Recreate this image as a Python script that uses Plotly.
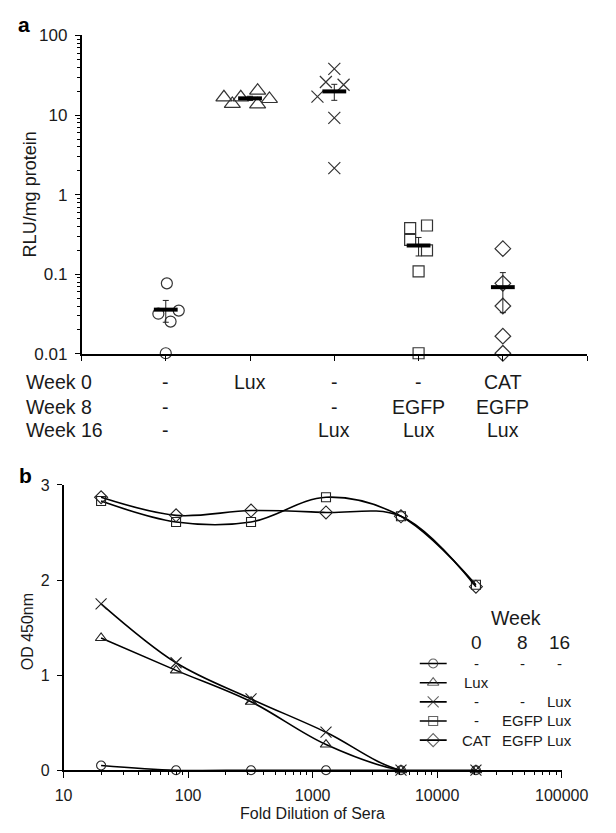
import plotly.graph_objects as go

W, H = 616, 833
FONT = "Liberation Sans, Arial, sans-serif"
INK = "#1a1a1a"

# ---------------- Panel a data ----------------
groups = [1, 2, 3, 4, 5]
week0 = ["-", "Lux", "-", "-", "CAT"]
week8 = ["-", "", "-", "EGFP", "EGFP"]
week16 = ["-", "", "Lux", "Lux", "Lux"]
row_names = ["Week 0", "Week 8", "Week 16"]

circ_y = [0.077, 0.032, 0.035, 0.0255, 0.0102]
circ_dx = [0.013, -0.088, 0.154, 0.057, 0.0]
tri_y = [16.7, 13.8, 16.7, 20.2, 13.6, 15.9]
tri_dx = [-0.31, -0.21, -0.11, 0.09, 0.09, 0.23]
x_y = [17.0, 26.0, 38.0, 24.0, 9.2, 2.15]
x_dx = [-0.2, -0.1, 0.0, 0.11, 0.0, 0.0]
sq_y = [0.38, 0.41, 0.27, 0.20, 0.109, 0.0102]
sq_dx = [-0.1, 0.1, -0.1, 0.1, 0.0, 0.0]
dia_y = [0.21, 0.077, 0.040, 0.0167, 0.0102]
dia_dx = [0.0, 0.0, 0.0, 0.0, 0.0]

group_mean = [0.036, 16.2, 19.8, 0.23, 0.069]
group_sem = [0.011, 1.0, 4.5, 0.06, 0.036]

# ---------------- Panel b data ----------------
dilution = [20, 80, 320, 1280, 5120, 20480]
od_none = [0.05, 0.0, 0.0, 0.0, 0.0, 0.0]
od_lux0 = [1.39, 1.05, 0.72, 0.27, 0.0, 0.0]
od_lux16 = [1.75, 1.13, 0.75, 0.40, 0.0, 0.0]
od_egfp = [2.83, 2.61, 2.61, 2.87, 2.67, 1.95]
od_cat = [2.87, 2.68, 2.73, 2.71, 2.67, 1.93]
legend_w0 = ["-", "Lux", "-", "-", "CAT"]
legend_w8 = ["-", "", "-", "EGFP", "EGFP"]
legend_w16 = ["-", "", "Lux", "Lux", "Lux"]
legend_cols = ["0", "8", "16"]

symbols = ["circle-open", "triangle-up-open", "x-thin-open", "square-open", "diamond-open"]


def px_x(p):
    return p / W


def px_y(p):
    return 1 - p / H


fig = go.Figure()

# Panel a scatter points
pts = [(circ_y, circ_dx), (tri_y, tri_dx), (x_y, x_dx), (sq_y, sq_dx), (dia_y, dia_dx)]
sizes_a = [11, 14, 12, 11, 12]
for g, (ys, dxs), sym, sz in zip(groups, pts, symbols, sizes_a):
    fig.add_trace(go.Scatter(
        x=[g + d for d in dxs], y=ys, mode="markers", xaxis="x", yaxis="y",
        marker=dict(symbol=sym, size=sz, color="#333", line=dict(width=1.2, color="#333")),
        cliponaxis=False, showlegend=False))

# Mean +/- SEM
fig.add_trace(go.Scatter(
    x=groups, y=group_mean, mode="markers", xaxis="x", yaxis="y",
    marker=dict(symbol="line-ew", size=17, line=dict(width=4, color="black")),
    error_y=dict(type="data", array=group_sem, symmetric=True, color="#222", thickness=1, width=3),
    cliponaxis=False, showlegend=False))

# Panel b curves
series_b = [od_none, od_lux0, od_lux16, od_egfp, od_cat]
sizes_b = [9, 10, 11, 9, 10]
for ys, sym, sz in zip(series_b, symbols, sizes_b):
    fig.add_trace(go.Scatter(
        x=dilution, y=ys, mode="lines+markers", xaxis="x2", yaxis="y2",
        line=dict(color="black", width=1.6, shape="spline", smoothing=1.0),
        marker=dict(symbol=sym, size=sz, color="#222", line=dict(width=1.1, color="#222")),
        cliponaxis=False, showlegend=False))

# Custom legend symbols (row index on a hidden axis)
rows = list(range(len(symbols)))
for r, sym, sz in zip(rows, symbols, sizes_b):
    fig.add_trace(go.Scatter(
        x=[0, 0.5, 1], y=[r, r, r], mode="lines+markers", xaxis="x3", yaxis="y3",
        line=dict(color="black", width=1.6),
        marker=dict(symbol=sym, size=[0, sz, 0], color="#222", line=dict(width=1.1, color="#222")),
        cliponaxis=False, showlegend=False))

axis_common = dict(showline=True, linecolor="black", linewidth=1.5, showgrid=False,
                   zeroline=False, ticks="outside", tickcolor="black")

layout = dict(
    width=W, height=H, margin=dict(l=0, r=0, t=0, b=0),
    paper_bgcolor="white", plot_bgcolor="white",
    font=dict(family=FONT, color=INK),
    xaxis=dict(axis_common, domain=[px_x(77), px_x(614)], range=[0, 6],
               tickvals=[0, 1, 2, 3, 4, 5, 6], showticklabels=False, ticklen=5,
               anchor="y"),
    yaxis=dict(axis_common, domain=[px_y(353), px_y(27)], type="log",
               range=[-2, 2], tickvals=[0.01, 0.1, 1, 10, 100],
               ticktext=["0.01", "0.1", "1", "10", "100"], ticklen=5,
               ticklabelstandoff=4,
               tickfont=dict(family=FONT, size=17, color=INK),
               minor=dict(ticks="outside", ticklen=3, dtick="D1", tickcolor="black", showgrid=False),
               anchor="x"),
    xaxis2=dict(axis_common, domain=[px_x(58), px_x(587)], type="log",
                range=[1, 5], tickvals=[10, 100, 1000, 10000, 100000],
                ticktext=["10", "100", "1000", "10000", "100000"], ticklen=6,
                ticklabelstandoff=4,
                tickfont=dict(family=FONT, size=16, color=INK),
                minor=dict(ticks="outside", ticklen=3, dtick="D1", tickcolor="black", showgrid=False),
                anchor="y2"),
    yaxis2=dict(axis_common, domain=[px_y(779), px_y(487)], range=[0, 3],
                tickvals=[0, 1, 2, 3], ticklen=5, ticklabelstandoff=4,
                tickfont=dict(family=FONT, size=16, color=INK), anchor="x2"),
    xaxis3=dict(domain=[px_x(436), px_x(465)], range=[0, 1], visible=False, anchor="y3"),
    yaxis3=dict(domain=[px_y(758), px_y(660)], range=[4.5, -0.5], visible=False, anchor="x3"),
)
fig.update_layout(**layout)


def note(text, x, y, size, xref="paper", yref="paper", xanchor="center", angle=0, color=INK):
    return dict(text=text, x=x, y=y, xref=xref, yref=yref, xanchor=xanchor, yanchor="middle",
                textangle=angle, showarrow=False, font=dict(size=size, family=FONT, color=color))


ann = []
# panel letters
ann.append(note("<b>a</b>", px_x(16), px_y(16), 21, color="black"))
ann.append(note("<b>b</b>", px_x(18), px_y(477), 21, color="black"))
# axis titles
ann.append(note("RLU/mg protein", px_x(22), px_y(190), 18, angle=-90))
ann.append(note("OD 450nm", px_x(20), px_y(637), 16, angle=-90))
ann.append(note("Fold Dilution of Sera", px_x(322), px_y(823), 16))
# table under panel a
row_y = [382, 407, 431]
for name, ry, labels in zip(row_names, row_y, [week0, week8, week16]):
    ann.append(note(name, px_x(16), px_y(ry), 19.5, xanchor="left"))
    for g, lab in zip(groups, labels):
        if lab:
            ann.append(note(lab, g, px_y(ry), 19.5, xref="x"))
# legend text
col_x = [497, 545, 585]
ann.append(note("Week", px_x(538), px_y(623), 19.5))
for cx, c in zip(col_x, legend_cols):
    ann.append(note(c, px_x(cx), px_y(648), 19))
for r, a0, a8, a16 in zip(rows, legend_w0, legend_w8, legend_w16):
    for cx, lab in zip(col_x, [a0, a8, a16]):
        if lab:
            ann.append(note(lab, px_x(cx), r, 15, yref="y3"))
fig.update_layout(annotations=ann)

fig.write_html("out.html", config={"displayModeBar": False},
               post_script="document.body.style.margin='0';")
